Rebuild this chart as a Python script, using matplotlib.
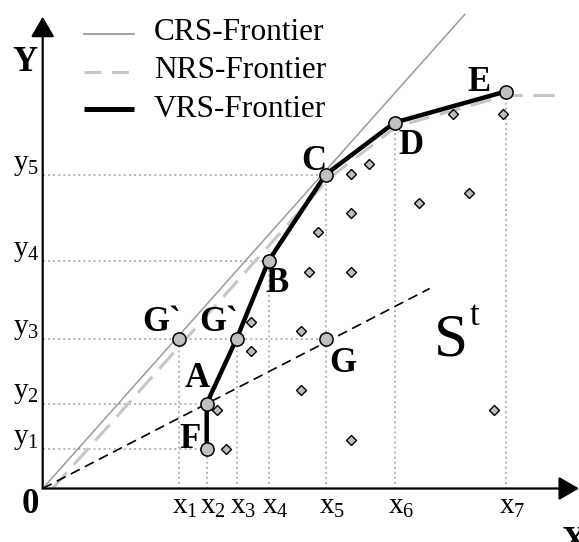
import matplotlib
matplotlib.use("Agg")
import matplotlib.pyplot as plt

plt.rcParams['font.family'] = ['Liberation Serif', 'DejaVu Serif']
plt.rcParams['mathtext.fontset'] = 'custom'
plt.rcParams['mathtext.rm'] = 'Liberation Serif'
plt.rcParams['mathtext.it'] = 'Liberation Serif:italic'
plt.rcParams['mathtext.bf'] = 'Liberation Serif:bold'

# ---------------- data (units: pixel-like chart units from the origin) ----------------
x_ticks = [136, 164, 194, 226, 283, 352, 463]
x_tick_labels = ['x$_1$', 'x$_2$', 'x$_3$', 'x$_4$', 'x$_5$', 'x$_6$', 'x$_7$']
y_ticks = [40, 85, 150, 228, 314]
y_tick_labels = ['y$_1$', 'y$_2$', 'y$_3$', 'y$_4$', 'y$_5$']

# VRS frontier points: F, A, G`, B, C, D, E
vrs_names = ['F', 'A', 'G`', 'B', 'C', 'D', 'E']
vrs_x = [164, 164, 194, 226, 283, 352, 463]
vrs_y = [40, 85, 150, 228, 314, 366, 397]

# other labelled points: G` on CRS, G
other_names = ['G`', 'G']
other_x = [136, 283]
other_y = [150, 150]

# CRS ray end
crs_x = [0, 422]
crs_y = [0, 474]

# NRS frontier path
nrs_x = [10, 286, 354, 463, 519]
nrs_y = [0, 310, 362, 393, 393]

# dashed ray through A and G
ray_x = [0, 387]
ray_y = [0, 200]

# interior observations (diamonds)
obs_x = [174, 183, 208, 208, 258, 258, 266, 275, 308, 326, 308, 308, 308, 376, 426, 410, 460, 451]
obs_y = [79, 40, 167, 138, 158, 99, 217, 257, 315, 325, 276, 217, 49, 286, 296, 375, 375, 79]

# dotted guide lines: (tick value, extent)
vguides = [(136, 150), (164, 40), (194, 150), (226, 228), (283, 314), (352, 366), (463, 397)]
hguides = [(40, 164), (85, 164), (150, 283), (228, 226), (314, 283)]

# legend
leg_names = ['CRS-Frontier', 'NRS-Frontier', 'VRS-Frontier']

# ---------------- figure ----------------
W, H = 579, 542
ox, oy = 42.7, 488.5
fig = plt.figure(figsize=(W / 100, H / 100), dpi=100)
ax = fig.add_axes([0, 0, 1, 1])
ax.set_xlim(-ox, W - ox)
ax.set_ylim(oy - H, oy)
ax.axis('off')

guide_kw = dict(color='#b4b4b4', lw=1.4, linestyle=(0, (1, 1.6)), zorder=1)
for xv, ext in vguides:
    ax.plot([xv, xv], [0, ext], **guide_kw)
for yv, ext in hguides:
    ax.plot([0, ext], [yv, yv], **guide_kw)

# frontiers
ax.plot(crs_x, crs_y, color='#9a9a9a', lw=1.1, zorder=2)
ax.plot(nrs_x, nrs_y, color='#c6c6c6', lw=2.2, dashes=(7, 3.5), zorder=2)
ax.plot(ray_x, ray_y, color='black', lw=1.2, dashes=(6, 3.5), zorder=2)
ax.plot(vrs_x, vrs_y, color='black', lw=3.2, solid_capstyle='butt', zorder=3)

# observations
ax.plot(obs_x, obs_y, linestyle='none', marker='D', ms=5.0, mfc='#bdbdbd', mec='black', mew=1.0, zorder=4)

# circles
ax.plot(vrs_x, vrs_y, linestyle='none', marker='o', ms=9.5, mfc='#c0c0c0', mec='black', mew=1.1, zorder=5)
ax.plot(other_x, other_y, linestyle='none', marker='o', ms=9.5, mfc='#c0c0c0', mec='black', mew=1.1, zorder=5)

# axes with arrows
arrow_kw = dict(arrowstyle='-|>,head_length=0.62,head_width=0.36', color='black', lw=1.6,
                mutation_scale=20, shrinkA=0, shrinkB=0)
ax.annotate('', xy=(W - ox, 0), xytext=(0, 0), arrowprops=arrow_kw, zorder=6)
ax.annotate('', xy=(0, oy - 16.7), xytext=(0, 0), arrowprops=arrow_kw, zorder=6)

# tick labels
for xv, lab in zip(x_ticks, x_tick_labels):
    ax.text(xv - 7, -24.8, lab, fontsize=21, ha='left', va='baseline')
for yv, lab in zip(y_ticks, y_tick_labels):
    ax.text(-29.7, yv + 5, lab, fontsize=21, ha='left', va='baseline')

# point labels
bold = dict(fontsize=25, fontweight='bold', ha='center', va='baseline', zorder=7)
label_pos = {
    'F': (147.3, 40.2), 'A': (154.0, 101.2), 'G`v': (176.0, 157.5), 'B': (234.8, 196.8),
    'C': (271.3, 318.5), 'D': (368.3, 334.5), 'E': (436.3, 397.8),
    'G`c': (119.3, 157.5), 'G': (300.3, 116.8),
}
for key, (lx, ly) in label_pos.items():
    ax.text(lx, ly, key[:2] if key.startswith('G`') else key, **bold)

ax.text(-12.2, -24.8, '0', **bold)
ax.text(-18.0, 417.5, 'Y', **bold)
ax.text(519, -62.5, 'X', fontsize=25, fontweight='bold', ha='left', va='baseline')

# S^t
ax.text(408.3, 133.5, 'S', fontsize=44, ha='center', va='baseline')
ax.text(427.3, 163.5, 't', fontsize=25, ha='left', va='baseline')

# legend
leg_line_y = [454.5, 416.8, 379.5]
leg_text_y = [448.5, 410.2, 371.8]
ax.plot([41.3, 91.3], [leg_line_y[0]] * 2, color='#9a9a9a', lw=1.3)
ax.plot([41.3, 91.3], [leg_line_y[1]] * 2, color='#c6c6c6', lw=2.2, dashes=(5.5, 3.5))
ax.plot([41.3, 91.3], [leg_line_y[2]] * 2, color='black', lw=3.6, solid_capstyle='butt')
for name, ty in zip(leg_names, leg_text_y):
    ax.text(111.0, ty, name, fontsize=22.5, ha='left', va='baseline')

fig.savefig('out.png', dpi=100)
